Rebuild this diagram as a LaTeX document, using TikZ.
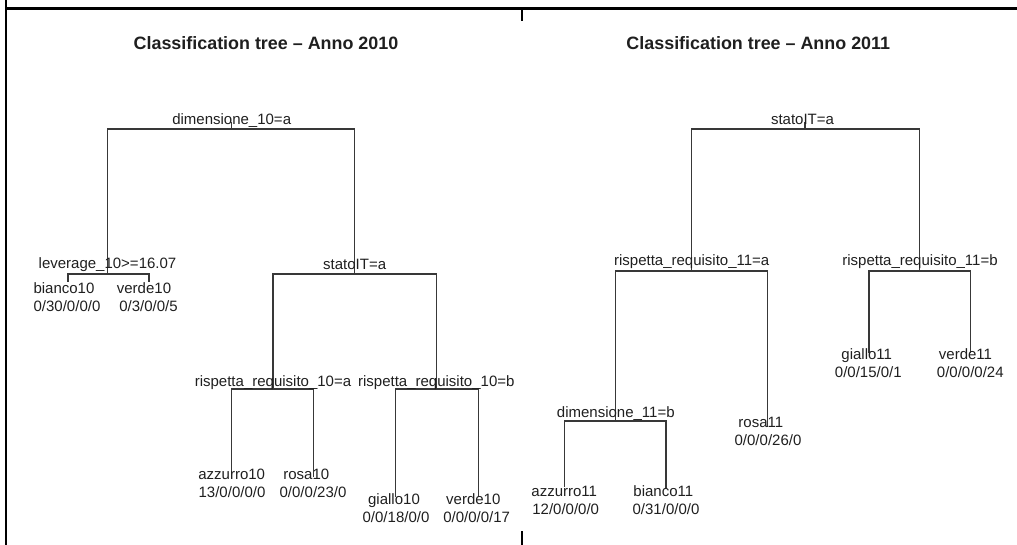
\documentclass[tikz,border=0pt]{standalone}
\usepackage{fontspec}
\setmainfont{Liberation Sans}
\begin{document}
\begin{tikzpicture}[x=1pt,y=-1pt,
  lbl/.style={anchor=base,inner sep=0pt,font=\fontsize{15}{18}\selectfont,text=black!88},
  ttl/.style={anchor=base,inner sep=0pt,font=\fontsize{17.9}{21}\selectfont\bfseries,text=black!88},
  br/.style={draw=black!78,line width=1.2pt},
  frm/.style={draw=black,line width=2.6pt}]
\useasboundingbox (0,0) rectangle (1017,545);
% frame
\coordinate (fL0) at (6,0);
\coordinate (fLB) at (6,545);
\coordinate (fTL) at (6,8.5);
\coordinate (fTR) at (1017,8.5);
\coordinate (tkT0) at (522,8.5);
\coordinate (tkT1) at (522,21);
\coordinate (tkB0) at (522,531);
\coordinate (tkB1) at (522,545);
\draw[frm] (fL0) -- (fLB);
\draw[frm] (fTL) -- (fTR);
\draw[frm] (tkT0) -- (tkT1);
\draw[frm] (tkB0) -- (tkB1);
% titles
\node[ttl] (t10) at (266,49.5) {Classification tree – Anno 2010};
\node[ttl] (t11) at (758.3,49.5) {Classification tree – Anno 2011};
% ---------- tree 2010 ----------
\coordinate (r10top) at (231.7,122);
\coordinate (r10) at (231.7,129);
\coordinate (a10) at (107.3,274);
\coordinate (b10) at (354.3,274);
\coordinate (a10l) at (68,281.7);
\coordinate (a10r) at (149,281.7);
\coordinate (c10) at (273,389);
\coordinate (d10) at (436.7,389);
\coordinate (c10l) at (231.7,478);
\coordinate (c10r) at (313.3,477);
\coordinate (d10l) at (395.7,497);
\coordinate (d10r) at (478.3,497);
\draw[br] (r10top) -- (r10);
\draw[br] (a10) |- (r10) -| (b10);
\draw[br] (a10l) |- (a10) -| (a10r);
\draw[br] (c10) |- (b10) -| (d10);
\draw[br] (c10l) |- (c10) -| (c10r);
\draw[br] (d10l) |- (d10) -| (d10r);
\node[lbl] (sr10) at (231.7,125) {dimensione\_10=a};
\node[lbl] (sa10) at (107.5,269) {leverage\_10>=16.07};
\node[lbl] (sb10) at (354.7,270) {statoIT=a};
\node[lbl] (lb10) at (64,294) {bianco10};
\node[lbl] (nb10) at (67,311) {0/30/0/0/0};
\node[lbl] (lv10) at (144,294) {verde10};
\node[lbl] (nv10) at (148.5,311) {0/3/0/0/5};
\node[lbl] (sc10) at (273,386) {rispetta\_requisito\_10=a};
\node[lbl] (sd10) at (436.3,386) {rispetta\_requisito\_10=b};
\node[lbl] (laz10) at (231.7,479) {azzurro10};
\node[lbl] (naz10) at (232,497.5) {13/0/0/0/0};
\node[lbl] (lro10) at (306.3,479) {rosa10};
\node[lbl] (nro10) at (313,497.5) {0/0/0/23/0};
\node[lbl] (lgi10) at (394,504) {giallo10};
\node[lbl] (ngi10) at (396,522.5) {0/0/18/0/0};
\node[lbl] (lve10) at (473.3,504) {verde10};
\node[lbl] (nve10) at (476.7,522.5) {0/0/0/0/17};
% ---------- tree 2011 ----------
\coordinate (r11top) at (805,122);
\coordinate (r11) at (805,129);
\coordinate (a11) at (691.2,271);
\coordinate (b11) at (919.3,271);
\coordinate (c11) at (615.7,421);
\coordinate (a11r) at (767.3,426.7);
\coordinate (c11l) at (564.3,487);
\coordinate (c11r) at (666,488);
\coordinate (b11l) at (869,353.3);
\coordinate (b11r) at (970.7,353.3);
\draw[br] (r11top) -- (r11);
\draw[br] (a11) |- (r11) -| (b11);
\draw[br] (c11) |- (a11) -| (a11r);
\draw[br] (c11l) |- (c11) -| (c11r);
\draw[br] (b11l) |- (b11) -| (b11r);
\node[lbl] (sr11) at (802.5,125) {statoIT=a};
\node[lbl] (sa11) at (691.7,266) {rispetta\_requisito\_11=a};
\node[lbl] (sb11) at (920,266) {rispetta\_requisito\_11=b};
\node[lbl] (lgi11) at (866.7,359) {giallo11};
\node[lbl] (ngi11) at (868.3,377.5) {0/0/15/0/1};
\node[lbl] (lve11) at (965.5,359) {verde11};
\node[lbl] (nve11) at (970.3,377.5) {0/0/0/0/24};
\node[lbl] (sc11) at (615.8,417) {dimensione\_11=b};
\node[lbl] (lro11) at (760.8,427) {rosa11};
\node[lbl] (nro11) at (768,445) {0/0/0/26/0};
\node[lbl] (laz11) at (564.2,496) {azzurro11};
\node[lbl] (naz11) at (565.7,514) {12/0/0/0/0};
\node[lbl] (lbi11) at (663.3,496) {bianco11};
\node[lbl] (nbi11) at (666,514) {0/31/0/0/0};
\end{tikzpicture}
\end{document}
